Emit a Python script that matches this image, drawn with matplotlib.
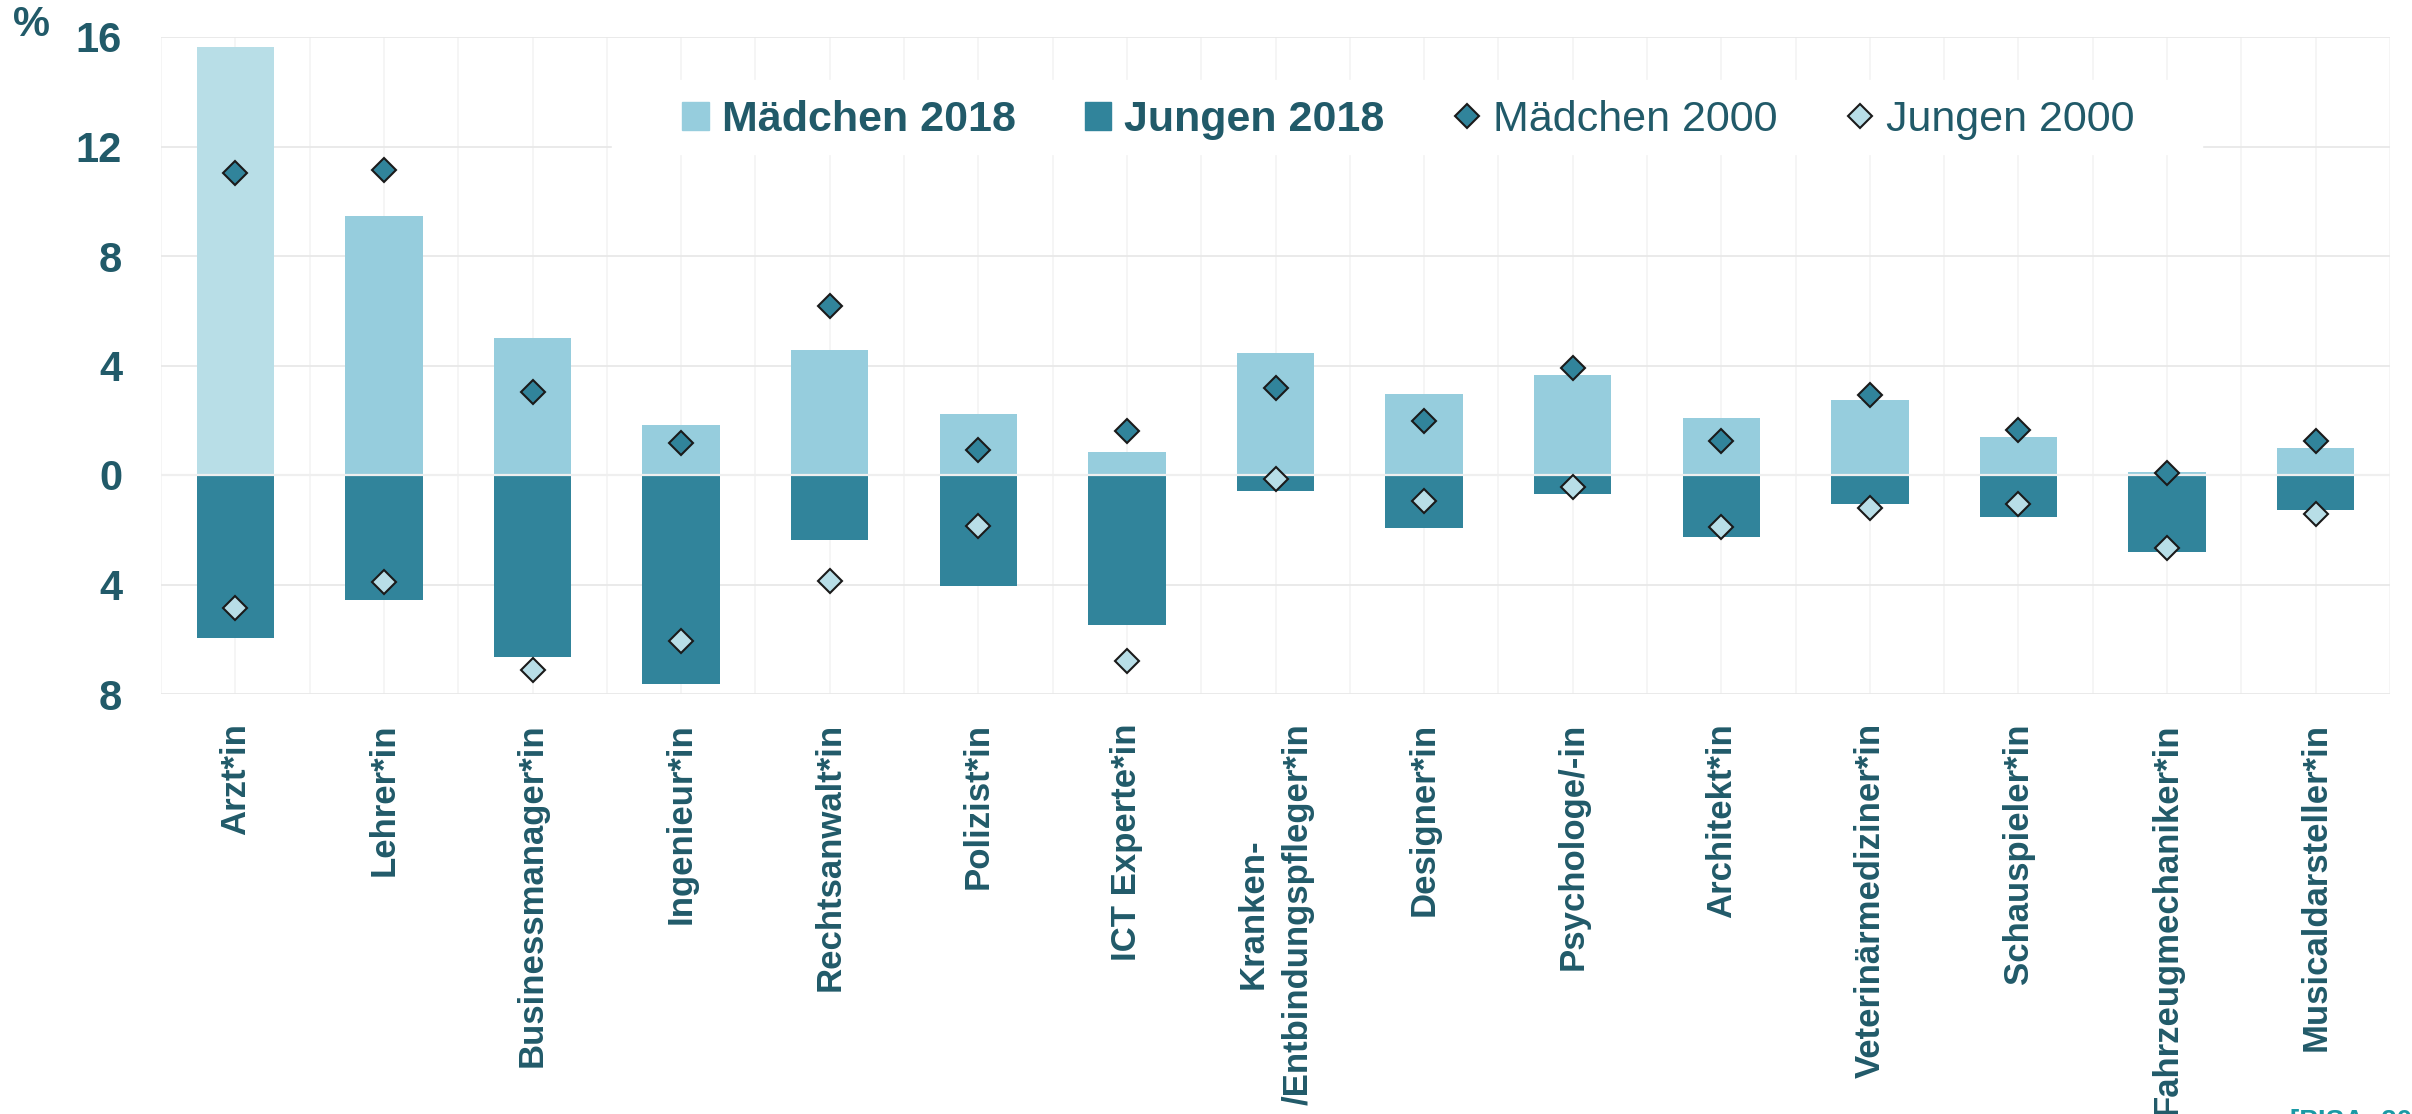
import matplotlib
matplotlib.use("Agg")
import matplotlib.pyplot as plt
from matplotlib.patches import Patch, Rectangle
from matplotlib.lines import Line2D

berufe = [
    "Arzt*in", "Lehrer*in", "Businessmanager*in", "Ingenieur*in",
    "Rechtsanwalt*in", "Polizist*in", "ICT Experte*in",
    "Kranken-\n/Entbindungspfleger*in", "Designer*in", "Psychologe/-in",
    "Architekt*in", "Veterinärmediziner*in", "Schauspieler*in",
    "Fahrzeugmechaniker*in", "Musicaldarsteller*in",
]
maedchen_2018 = [15.65, 9.46, 4.99, 1.82, 4.56, 2.24, 0.84, 4.45, 2.97, 3.64, 2.08, 2.75, 1.40, 0.11, 1.00]
jungen_2018 = [5.95, 4.56, 6.64, 7.62, 2.39, 4.04, 5.47, 0.58, 1.95, 0.71, 2.27, 1.05, 1.55, 2.82, 1.29]
maedchen_2000 = [11.04, 11.15, 3.04, 1.18, 6.18, 0.90, 1.59, 3.18, 1.96, 3.90, 1.25, 2.91, 1.63, 0.06, 1.24]
jungen_2000 = [4.85, 3.90, 7.12, 6.07, 3.88, 1.87, 6.78, 0.15, 0.96, 0.45, 1.89, 1.19, 1.06, 2.68, 1.42]
y_ticks = [-8, -4, 0, 4, 8, 12, 16]

dark = "#215a69"
light = "#96cddd"
lighter = "#b8dee7"
teal = "#31849b"

fam = ["Liberation Sans", "DejaVu Sans"]

W, H = 2412, 1114
fig = plt.figure(figsize=(W / 100, H / 100), dpi=100)
ax_l, ax_r, ax_t, ax_b = 161, 2390, 37, 694
ax = fig.add_axes([ax_l / W, 1 - ax_b / H, (ax_r - ax_l) / W, (ax_b - ax_t) / H])

x = list(range(len(berufe)))
colors_m = [lighter] + [light] * (len(berufe) - 1)
ax.bar(x, maedchen_2018, width=0.52, color=colors_m, zorder=2)
ax.bar(x, [-v for v in jungen_2018], width=0.52, color=teal, zorder=2)
ax.axhline(0, color="#efefef", lw=1.6, zorder=3)
ax.plot(x, maedchen_2000, ls="none", marker="D", ms=12, mfc=teal, mec="#1a1a1a", mew=1.5, zorder=4)
ax.plot(x, [-v for v in jungen_2000], ls="none", marker="D", ms=12, mfc=lighter, mec="#1a1a1a", mew=1.5, zorder=4)

ax.set_xlim(-0.5, len(berufe) - 0.5)
ax.set_ylim(-8, 16)
ax.set_yticks(y_ticks)
ax.set_yticklabels([str(abs(v)) for v in y_ticks])
ax.set_xticks(x)
ax.set_xticklabels(berufe, rotation=90, multialignment="center", linespacing=1.45)
ax.set_xticks([i + 0.5 for i in range(-1, len(berufe))], minor=True)

for lbl in ax.get_yticklabels():
    lbl.set_fontfamily(fam)
    lbl.set_fontweight("bold")
    lbl.set_fontsize(30)
    lbl.set_color(dark)
for lbl in ax.get_xticklabels():
    lbl.set_fontfamily(fam)
    lbl.set_fontweight("bold")
    lbl.set_fontsize(25)
    lbl.set_color(dark)

ax.tick_params(axis="y", length=0, pad=28)
ax.tick_params(axis="x", which="both", length=0, pad=21)
ax.grid(axis="y", color="#e8e8e8", lw=1.3, zorder=0)
ax.grid(axis="x", which="both", color="#f3f3f3", lw=1.2, zorder=0)
ax.set_axisbelow(True)
for s in ax.spines.values():
    s.set_visible(False)

# white box behind the legend
aw, ah = ax_r - ax_l, ax_b - ax_t
ax.add_patch(Rectangle(((612 - ax_l) / aw, (ax_b - 154) / ah), (2202 - 612) / aw, 74 / ah,
                       transform=ax.transAxes, color="white", zorder=1.5))

handles = [
    Patch(color=light),
    Patch(color=teal),
    Line2D([], [], ls="none", marker="D", ms=12, mfc=teal, mec="#1a1a1a", mew=1.5),
    Line2D([], [], ls="none", marker="D", ms=12, mfc=lighter, mec="#1a1a1a", mew=1.5),
]
labels = ["Mädchen 2018", "Jungen 2018", "Mädchen 2000", "Jungen 2000"]
leg = ax.legend(handles, labels, ncol=4, loc="center left",
                bbox_to_anchor=((682 - ax_l) / aw, (ax_b - 120) / ah),
                frameon=False, borderpad=0, borderaxespad=0,
                handlelength=0.62, handleheight=0.64, handletextpad=0.3,
                columnspacing=1.6, prop={"family": fam, "size": 31})
leg.set_zorder(5)
for i, t in enumerate(leg.get_texts()):
    t.set_color(dark)
    t.set_fontweight("bold" if i < 2 else "normal")

fig.text(32 / W, 1 - 25 / H, "%", ha="center", va="center", fontsize=30,
         fontweight="bold", color=dark, family=fam)
fig.text(2290 / W, 1 - 1109 / H, "[PISA: 2018]", ha="left", va="top", fontsize=20,
         fontweight="bold", color="#1b9aa5", family=fam)

fig.savefig("out.png", dpi=100)
